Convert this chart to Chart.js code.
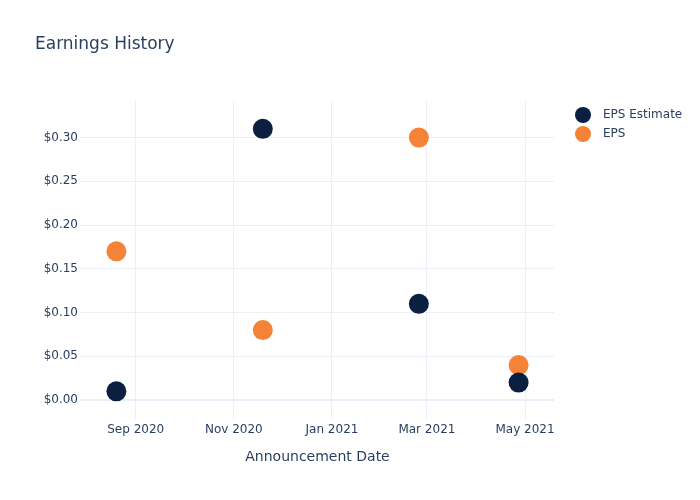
<!DOCTYPE html>
<html>
<head>
<meta charset="utf-8">
<script src="https://cdn.jsdelivr.net/npm/chart.js@4/dist/chart.umd.min.js"></script>
<style>
  html, body { margin: 0; padding: 0; background: #fff; }
  #wrap { width: 700px; height: 500px; }
</style>
</head>
<body>
<div id="wrap"><canvas id="c" width="700" height="500"></canvas></div>
<script>
// ---- data ----
const announceDates = ['2020-08-20', '2020-11-19', '2021-02-24', '2021-04-27'];
const epsEstimate = [0.01, 0.31, 0.11, 0.02];
const epsActual = [0.17, 0.08, 0.30, 0.04];
const seriesNames = ['EPS Estimate', 'EPS'];
const seriesColors = ['#0b1f41', '#f58337'];
const xTickDates = ['2020-09-01', '2020-11-01', '2021-01-01', '2021-03-01', '2021-05-01'];
const xTickLabels = ['Sep 2020', 'Nov 2020', 'Jan 2021', 'Mar 2021', 'May 2021'];
const yTickValues = [0, 0.05, 0.10, 0.15, 0.20, 0.25, 0.30];
const chartTitle = 'Earnings History';
const xAxisTitle = 'Announcement Date';
const xRange = ['2020-07-29', '2021-05-19'];
const yRange = [-0.0216, 0.3418];

const ts = s => Date.parse(s + 'T00:00:00Z');
const FONT = '"DejaVu Sans", Verdana, sans-serif';
const TEXT = '#2a3f5f';
const GRID = '#ebf0f8';

const toPoints = vals => announceDates.map((d, i) => ({ x: ts(d), y: vals[i] }));

const extras = {
  id: 'extras',
  afterDraw(chart) {
    const ctx = chart.ctx;
    const a = chart.chartArea;
    ctx.save();
    ctx.fillStyle = TEXT;
    ctx.textBaseline = 'middle';
    // title
    ctx.font = '17px ' + FONT;
    ctx.textAlign = 'left';
    ctx.fillText(chartTitle, 35, 45);
    // x axis title
    ctx.font = '14px ' + FONT;
    ctx.textAlign = 'center';
    ctx.fillText(xAxisTitle, (a.left + a.right) / 2, 457);
    // legend
    ctx.font = '12px ' + FONT;
    ctx.textAlign = 'left';
    chart.data.datasets.forEach((ds, i) => {
      const y = 115 + i * 19;
      ctx.beginPath();
      ctx.fillStyle = ds.backgroundColor;
      ctx.arc(583, y, 8, 0, Math.PI * 2);
      ctx.fill();
      ctx.fillStyle = TEXT;
      ctx.fillText(ds.label, 603, y);
    });
    ctx.restore();
  }
};

new Chart(document.getElementById('c'), {
  type: 'scatter',
  data: {
    datasets: [
      { label: seriesNames[0], data: toPoints(epsEstimate), backgroundColor: seriesColors[0], borderWidth: 0, pointRadius: 10, pointHoverRadius: 10 },
      { label: seriesNames[1], data: toPoints(epsActual), backgroundColor: seriesColors[1], borderWidth: 0, pointRadius: 10, pointHoverRadius: 10 }
    ]
  },
  options: {
    responsive: false,
    devicePixelRatio: 1,
    animation: false,
    layout: { padding: { left: 1, right: 146, top: 101, bottom: 0 } },
    plugins: { legend: { display: false }, title: { display: false }, tooltip: { enabled: false } },
    scales: {
      x: {
        type: 'linear',
        min: ts(xRange[0]),
        max: ts(xRange[1]),
        afterFit: s => { s.height = 81; },
        afterBuildTicks: s => { s.ticks = xTickDates.map(d => ({ value: ts(d) })); },
        ticks: {
          autoSkip: false, maxRotation: 0, padding: 4,
          color: TEXT, font: { family: FONT, size: 12 },
          callback: (v) => { const i = xTickDates.findIndex(d => ts(d) === v); return i >= 0 ? xTickLabels[i] : ''; }
        },
        grid: { color: GRID, lineWidth: 1, drawTicks: false },
        border: { display: false }
      },
      y: {
        type: 'linear',
        min: yRange[0],
        max: yRange[1],
        afterFit: s => { s.width = 80; },
        afterBuildTicks: s => { s.ticks = yTickValues.map(v => ({ value: v })); },
        ticks: {
          autoSkip: false, padding: 3,
          color: TEXT, font: { family: FONT, size: 12 },
          callback: v => '$' + Number(v).toFixed(2)
        },
        grid: { color: GRID, lineWidth: c => (c.tick && c.tick.value === 0 ? 2 : 1), drawTicks: false },
        border: { display: false }
      }
    }
  },
  plugins: [extras]
});
</script>
</body>
</html>
